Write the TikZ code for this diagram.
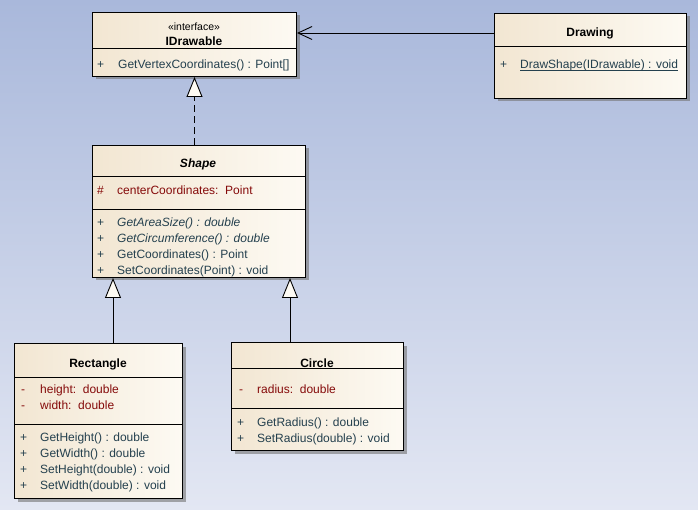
\documentclass[tikz,border=0pt]{standalone}
\usepackage{fontspec}
\setmainfont{Liberation Sans}
\usetikzlibrary{shadows,arrows.meta}

\definecolor{bgtop}{HTML}{A9B8DB}
\definecolor{bgbot}{HTML}{E3E7F3}
\definecolor{boxL}{HTML}{F2E6D2}
\definecolor{boxR}{HTML}{FDFAF3}
\definecolor{attrcol}{HTML}{850A0A}
\definecolor{methcol}{HTML}{24404E}

\tikzset{
  cls/.style={draw=black, line width=1pt, left color=boxL, right color=boxR,
    drop shadow={shadow xshift=3pt, shadow yshift=-3pt, fill=black!55, opacity=0.6},
    anchor=north west, inner sep=0pt},
  divider/.style={draw=black, line width=1pt},
  member/.style={anchor=base west, inner sep=0pt, font=\fontsize{12}{14}\selectfont, text=methcol},
  field/.style={member, text=attrcol},
  ctitle/.style={anchor=base, inner sep=0pt, font=\bfseries\fontsize{12}{14}\selectfont},
  stereo/.style={anchor=base, inner sep=0pt, font=\fontsize{10.5}{12}\selectfont},
  assoc/.style={draw=black, line width=0.9pt, -{Straight Barb[length=14pt, width=13pt, line width=0.9pt]}},
  gen/.style={draw=black, line width=0.9pt, -{Triangle[length=20pt, width=16pt, fill=boxR, line width=0.9pt]}},
  real/.style={gen, dash pattern=on 7pt off 4pt}
}

\begin{document}
\begin{tikzpicture}[x=1pt, y=-1pt]
  % background
  \shade[top color=bgtop, bottom color=bgbot] (0,0) rectangle (698,510);
  \useasboundingbox (0,0) rectangle (698,510);

  % class boxes
  \node[cls, minimum width=204pt, minimum height=64pt] (idraw) at (92,12) {};
  \node[cls, minimum width=192pt, minimum height=85pt] (drawing) at (494,13) {};
  \node[cls, minimum width=213pt, minimum height=132pt] (shape) at (92,145) {};
  \node[cls, minimum width=168pt, minimum height=155pt] (rect) at (14,343) {};
  \node[cls, minimum width=172pt, minimum height=108pt] (circ) at (231,342) {};

  % compartment dividers
  \draw[divider] (idraw.west |- 0,49) -- (idraw.east |- 0,49);
  \draw[divider] (drawing.west |- 0,47) -- (drawing.east |- 0,47);
  \draw[divider] (shape.west |- 0,177) -- (shape.east |- 0,177);
  \draw[divider] (shape.west |- 0,210) -- (shape.east |- 0,210);
  \draw[divider] (rect.west |- 0,377) -- (rect.east |- 0,377);
  \draw[divider] (rect.west |- 0,424) -- (rect.east |- 0,424);
  \draw[divider] (circ.west |- 0,368) -- (circ.east |- 0,368);
  \draw[divider] (circ.west |- 0,408) -- (circ.east |- 0,408);

  % IDrawable
  \node[stereo] (idrawst) at (194,31) {«interface»};
  \node[ctitle] (idrawtt) at (194,46) {IDrawable};
  \node[member] (idrawv1) at (97,69) {+};
  \node[member] (idrawm1) at (118,69) {GetVertexCoordinates() : Point[]};

  % Drawing
  \node[ctitle] (drawtt) at (590,37) {Drawing};
  \node[member] (drawv1) at (500,69) {+};
  \node[member] (drawm1) at (520,69) {\underline{\smash{DrawShape(IDrawable) : void}}};

  % Shape
  \node[ctitle, font=\bfseries\itshape\fontsize{12}{14}\selectfont] (shapett) at (198,168) {Shape};
  \node[field] (shapev0) at (97,195) {\#};
  \node[field] (shapea1) at (117,195) {centerCoordinates:\ \ Point};
  \node[member] (shapev1) at (97,227) {+};
  \node[member] (shapem1) at (117,227) {\itshape GetAreaSize() : double};
  \node[member] (shapev2) at (97,243) {+};
  \node[member] (shapem2) at (117,243) {\itshape GetCircumference() : double};
  \node[member] (shapev3) at (97,259) {+};
  \node[member] (shapem3) at (117,259) {GetCoordinates() : Point};
  \node[member] (shapev4) at (97,275) {+};
  \node[member] (shapem4) at (117,275) {SetCoordinates(Point) : void};

  % Rectangle
  \node[ctitle] (recttt) at (98,367) {Rectangle};
  \node[field] (rectva) at (21,393) {-};
  \node[field] (recta1) at (40,393) {height:\ \ double};
  \node[field] (rectvb) at (21,409) {-};
  \node[field] (recta2) at (40,409) {width:\ \ double};
  \node[member] (rectv1) at (20,441) {+};
  \node[member] (rectm1) at (40,441) {GetHeight() : double};
  \node[member] (rectv2) at (20,457) {+};
  \node[member] (rectm2) at (40,457) {GetWidth() : double};
  \node[member] (rectv3) at (20,473) {+};
  \node[member] (rectm3) at (40,473) {SetHeight(double) : void};
  \node[member] (rectv4) at (20,489) {+};
  \node[member] (rectm4) at (40,489) {SetWidth(double) : void};

  % Circle
  \node[ctitle] (circtt) at (317,367) {Circle};
  \node[field] (circva) at (239,393) {-};
  \node[field] (circa1) at (257,393) {radius:\ \ double};
  \node[member] (circv1) at (237,426) {+};
  \node[member] (circm1) at (257,426) {GetRadius() : double};
  \node[member] (circv2) at (237,442) {+};
  \node[member] (circm2) at (257,442) {SetRadius(double) : void};

  % relationships
  \coordinate (assocy) at (0,33);
  \coordinate (rectx) at (113,0);
  \coordinate (circx) at (290,0);
  \draw[assoc] (drawing.west |- assocy) -- (idraw.east |- assocy);
  \draw[real] (idraw.south |- shape.north) -- (idraw.south);
  \draw[gen] (rect.north -| rectx) -- (shape.south -| rectx);
  \draw[gen] (circ.north -| circx) -- (shape.south -| circx);
\end{tikzpicture}
\end{document}
